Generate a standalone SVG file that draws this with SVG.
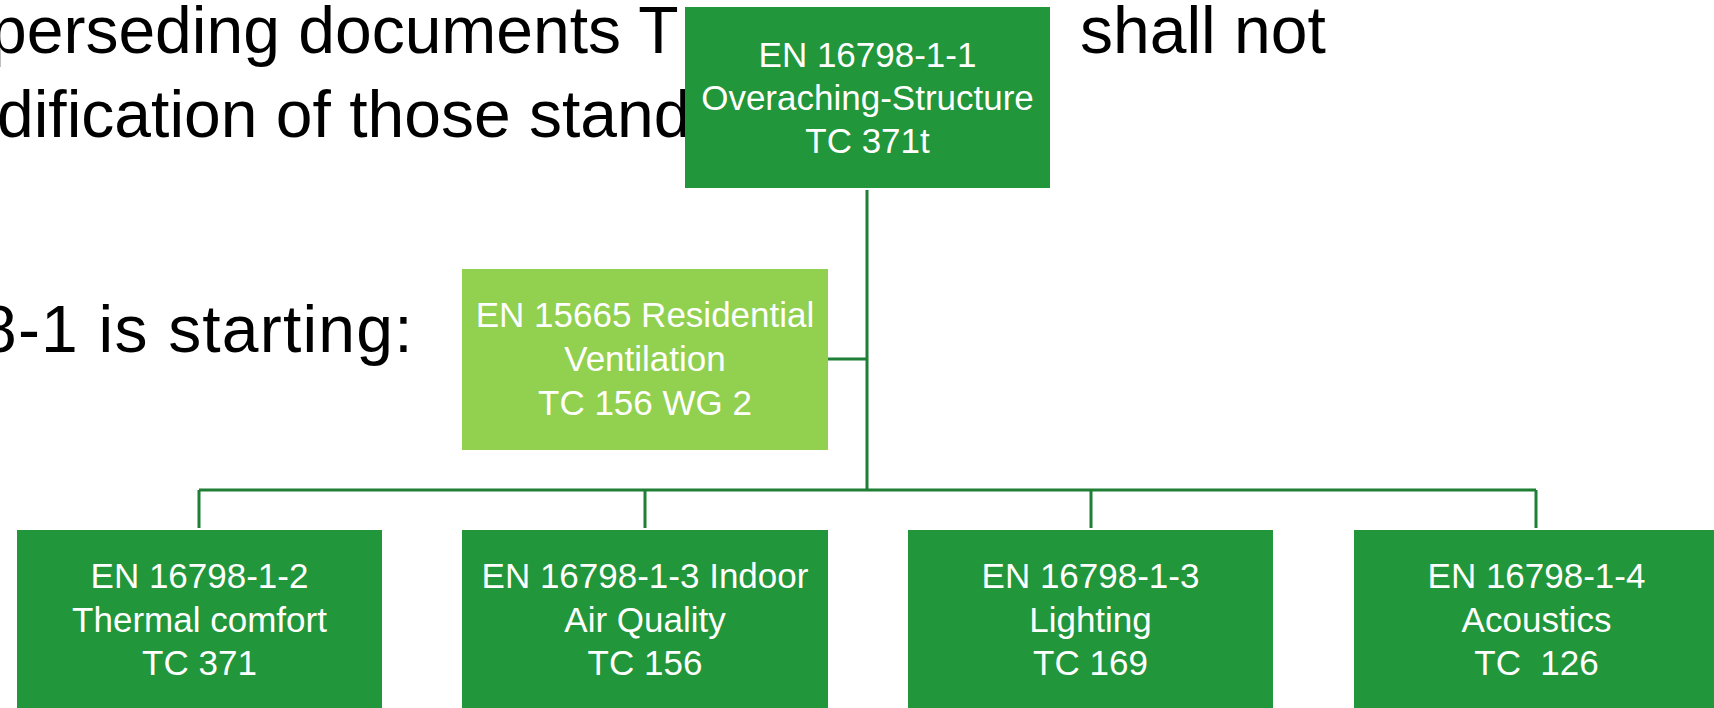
<svg xmlns="http://www.w3.org/2000/svg" width="1714" height="708" viewBox="0 0 1714 708">
  <style>
    .bg { fill: #ffffff; }
    .slide { font-family: "Liberation Sans", Arial, sans-serif; font-size: 66px; fill: #000000; }
    .box { fill: #21963a; }
    .box-light { fill: #92d050; }
    .label { font-family: "Liberation Sans", Arial, sans-serif; font-size: 35px; fill: #ffffff; text-anchor: middle; }
    .link { stroke: #1f7f35; stroke-width: 3; fill: none; stroke-linecap: butt; }
  </style>

  <rect class="bg" x="0" y="0" width="1714" height="708"/>

  <!-- slide body text, partly covered by the chart -->
  <g id="slide-text" class="slide">
    <text x="-10" y="53">perseding documents T</text>
    <text x="1080" y="53">shall not</text>
    <text x="-3" y="137">dification of those stand</text>
    <text x="-20" y="352" letter-spacing="1.2">8-1 is starting:</text>
  </g>

  <!-- tree connectors -->
  <g id="connectors" class="link">
    <path d="M867 190 V490"/>
    <path d="M828 359 H867"/>
    <path d="M199 490 H1536"/>
    <path d="M199 490 V528"/>
    <path d="M645 490 V528"/>
    <path d="M1091 490 V528"/>
    <path d="M1536 490 V528"/>
  </g>

  <g id="node-16798-1-1">
    <rect class="box" x="685" y="7" width="365" height="181"/>
    <text class="label" x="867.5" y="67">EN 16798-1-1</text>
    <text class="label" x="867.5" y="110">Overaching-Structure</text>
    <text class="label" x="867.5" y="153">TC 371t</text>
  </g>

  <g id="node-15665">
    <rect class="box-light" x="462" y="269" width="366" height="181"/>
    <text class="label" x="645" y="327">EN 15665 Residential</text>
    <text class="label" x="645" y="371">Ventilation</text>
    <text class="label" x="645" y="415">TC 156 WG 2</text>
  </g>

  <g id="node-16798-1-2">
    <rect class="box" x="17" y="530" width="365" height="200"/>
    <text class="label" x="199.5" y="588">EN 16798-1-2</text>
    <text class="label" x="199.5" y="632">Thermal comfort</text>
    <text class="label" x="199.5" y="675">TC 371</text>
  </g>

  <g id="node-16798-1-3-iaq">
    <rect class="box" x="462" y="530" width="366" height="200"/>
    <text class="label" x="645" y="588">EN 16798-1-3 Indoor</text>
    <text class="label" x="645" y="632">Air Quality</text>
    <text class="label" x="645" y="675">TC 156</text>
  </g>

  <g id="node-16798-1-3-lighting">
    <rect class="box" x="908" y="530" width="365" height="200"/>
    <text class="label" x="1090.5" y="588">EN 16798-1-3</text>
    <text class="label" x="1090.5" y="632">Lighting</text>
    <text class="label" x="1090.5" y="675">TC 169</text>
  </g>

  <g id="node-16798-1-4">
    <rect class="box" x="1354" y="530" width="365" height="200"/>
    <text class="label" x="1536.5" y="588">EN 16798-1-4</text>
    <text class="label" x="1536.5" y="632">Acoustics</text>
    <text class="label" x="1536.5" y="675" xml:space="preserve">TC  126</text>
  </g>
</svg>
